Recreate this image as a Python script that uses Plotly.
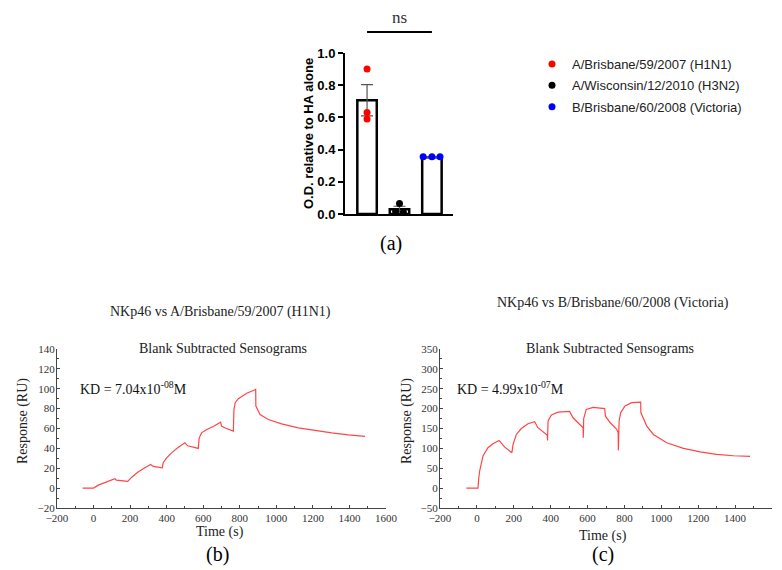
import plotly.graph_objects as go

W, H = 782, 570


def px(x):
    return x / W


def py(y):
    return 1 - y / H


# ---------------- data: panel (a) ----------------
strains = ["A/Brisbane/59/2007 (H1N1)", "A/Wisconsin/12/2010 (H3N2)", "B/Brisbane/60/2008 (Victoria)"]
strain_colors = ["#ff0000", "#000000", "#0000ff"]
od_mean = [0.707, 0.030, 0.353]
od_sem = [0.097, 0.018, 0.003]
od_points = [[0.90, 0.63, 0.59], [0.065, 0.015, 0.010], [0.355, 0.356, 0.355]]
point_offsets = [[0.0, 0.0, 0.0], [0.0, -0.12, 0.12], [-0.27, 0.0, 0.25]]
od_ticks = [0.0, 0.2, 0.4, 0.6, 0.8, 1.0]
ns_level = 1.13

# ---------------- data: panel (b) ----------------
t_b = [-60, 0, 26, 63, 90, 117, 125, 187, 209, 245, 281, 312, 327, 376, 381, 400, 427, 464, 500,
       515, 573, 578, 591, 619, 655, 695, 700, 720, 765, 768, 775, 792, 838, 887, 888, 911, 956,
       1029, 1120, 1211, 1303, 1394, 1485]
ru_b = [0, 0, 3.0, 5.7, 7.7, 9.4, 8.0, 6.7, 11.0, 16.4, 20.4, 23.8, 21.8, 20.4, 25.5, 30.5, 35.5, 41.2, 45.6,
        42.6, 40.0, 50.6, 55.6, 59.0, 62.0, 66.4, 62.5, 60.5, 57.3, 79.0, 86.0, 90.0, 95.5, 99.3, 82.5, 74.0, 69.0,
        64.7, 60.7, 58.0, 55.6, 53.6, 52.0]

# ---------------- data: panel (c) ----------------
t_c = [-57, 6, 10, 15, 33, 60, 87, 120, 151, 190, 196, 214, 241, 277, 313, 331, 382, 383, 386, 404, 440,
       503, 521, 576, 577, 579, 593, 630, 693, 697, 722, 758, 766, 767, 771, 780, 803, 839, 888, 889, 921,
       957, 1029, 1120, 1210, 1300, 1391, 1481]
ru_c = [0, 0, 25, 43, 80.7, 101.6, 111.7, 120, 103, 89, 110, 135, 150, 162, 167, 152, 133, 120, 169, 184, 191,
        193, 177, 152, 127, 175, 198, 203, 200, 181, 165, 148, 139.5, 95, 169, 190, 206.5, 215, 216.6, 190, 156,
        135, 114, 100, 91, 85, 81.5, 80]

titles = ["NKp46 vs A/Brisbane/59/2007 (H1N1)", "NKp46 vs B/Brisbane/60/2008 (Victoria)"]
kd_texts = ["KD = 7.04x10<sup>-08</sup>M", "KD = 4.99x10<sup>-07</sup>M"]

# ---------------- layout geometry ----------------
xa_dom = [px(345), px(453)]
ya_dom = [py(214), py(53)]
ya_rng = [0, 1.0]
xa_rng = [-0.68, 2.65]
xb_dom = [px(57), px(386)]
xc_dom = [px(440), px(772)]
ybc_dom = [py(508), py(349)]


def ya_paper(v):
    return ya_dom[0] + (v - ya_rng[0]) / (ya_rng[1] - ya_rng[0]) * (ya_dom[1] - ya_dom[0])


SANS = "Liberation Sans, Arial, sans-serif"
SERIF = "Liberation Serif, Times New Roman, serif"
RED = "rgb(255,70,70)"

fig = go.Figure()

# bars
fig.add_trace(go.Bar(
    x=[0, 1, 2], y=od_mean, width=0.6,
    marker=dict(color="white", line=dict(color="black", width=2.5)),
    error_y=dict(type="data", array=od_sem, color="#555555", thickness=1.2, width=6),
    showlegend=False, xaxis="x", yaxis="y", hoverinfo="skip",
))

# points
for i, (name, col) in enumerate(zip(strains, strain_colors)):
    fig.add_trace(go.Scatter(
        x=[i + o for o in point_offsets[i]], y=od_points[i], mode="markers",
        marker=dict(color=col, size=7), name=name, cliponaxis=False,
        xaxis="x", yaxis="y", legendgroup=name,
    ))

# sensograms
fig.add_trace(go.Scatter(x=t_b, y=ru_b, mode="lines", line=dict(color=RED, width=1.2),
                         showlegend=False, xaxis="x2", yaxis="y2"))
fig.add_trace(go.Scatter(x=t_c, y=ru_c, mode="lines", line=dict(color=RED, width=1.2),
                         showlegend=False, xaxis="x3", yaxis="y3"))

sens_axis = dict(showline=True, linecolor="#444444", linewidth=1, showgrid=False, zeroline=False,
                 ticks="inside", ticklen=3, tickcolor="#444444", tickwidth=1, automargin=False,
                 tickfont=dict(family=SERIF, size=11, color="#333333"))
x_sens = dict(range=[-200, 1600], dtick=200, ticklabelstandoff=0,
              minor=dict(dtick=100, ticks="inside", ticklen=2, tickcolor="#444444"), **sens_axis)

fig.update_layout(
    width=W, height=H, margin=dict(l=0, r=0, t=0, b=0, autoexpand=False),
    paper_bgcolor="white", plot_bgcolor="white",
    xaxis=dict(domain=xa_dom, range=xa_rng, showline=True, linecolor="black", linewidth=2,
               showticklabels=False, ticks="", showgrid=False, zeroline=False, anchor="y",
               automargin=False),
    yaxis=dict(domain=ya_dom, range=ya_rng, showline=True, linecolor="black", linewidth=2,
               ticks="outside", ticklen=5, tickwidth=2, tickcolor="black", automargin=False,
               tickvals=od_ticks, tickformat=".1f", showgrid=False, zeroline=False,
               tickfont=dict(family=SANS, size=13, color="black", weight="bold"), anchor="x"),
    xaxis2=dict(domain=xb_dom, anchor="y2", **x_sens),
    yaxis2=dict(domain=ybc_dom, range=[-20, 140], dtick=20, anchor="x2", ticklabelstandoff=-1,
                minor=dict(dtick=10, ticks="inside", ticklen=2, tickcolor="#444444"), **sens_axis),
    xaxis3=dict(domain=xc_dom, anchor="y3", **x_sens),
    yaxis3=dict(domain=ybc_dom, range=[-50, 350], dtick=50, anchor="x3", ticklabelstandoff=-1,
                minor=dict(dtick=25, ticks="inside", ticklen=2, tickcolor="#444444"), **sens_axis),
    legend=dict(x=px(532), y=py(49), xanchor="left", yanchor="top", bgcolor="rgba(0,0,0,0)",
                font=dict(family=SANS, size=13, color="#222222"), tracegroupgap=1.5),
    showlegend=True,
)

# significance bracket
fig.add_shape(type="line", xref="x", yref="paper", x0=0, x1=2, y0=ya_paper(ns_level), y1=ya_paper(ns_level),
              line=dict(color="black", width=2))


def label(text, x, y, size=14, family=SERIF, color="#222222", angle=0, xanchor="center", **kw):
    return dict(text=text, xref="paper", yref="paper", x=px(x), y=py(y), xanchor=xanchor,
                yanchor="middle", textangle=angle, showarrow=False,
                font=dict(family=family, size=size, color=color), **kw)


ann = []
ann.append(dict(text="ns", xref="x", yref="paper", x=1, y=ya_paper(ns_level), xanchor="center",
                yanchor="bottom", yshift=3, showarrow=False,
                font=dict(family=SERIF, size=17, color="#333333")))
ann.append(label("<b>O.D. relative to HA alone</b>", 308, 134, size=13, family=SANS, color="black", angle=-90))
ann.append(label("(a)", 391, 243, size=20, color="black"))
# panel b texts
ann.append(label(titles[0], 220, 312))
ann.append(label("Blank Subtracted Sensograms", 223, 348))
ann.append(label(kd_texts[0], 78, 388, color="#111111", xanchor="left"))
ann.append(label("Response (RU)", 23, 421, angle=-90))
ann.append(label("Time (s)", 220, 532))
ann.append(label("(b)", 217, 554, size=20, color="black"))
# panel c texts
ann.append(label(titles[1], 613, 303))
ann.append(label("Blank Subtracted Sensograms", 610, 348))
ann.append(label(kd_texts[1], 455, 388, color="#111111", xanchor="left"))
ann.append(label("Response (RU)", 407, 421, angle=-90))
ann.append(label("Time (s)", 603, 536))
ann.append(label("(c)", 603, 554, size=20, color="black"))
fig.update_layout(annotations=ann)

fig.write_html("out.html")
